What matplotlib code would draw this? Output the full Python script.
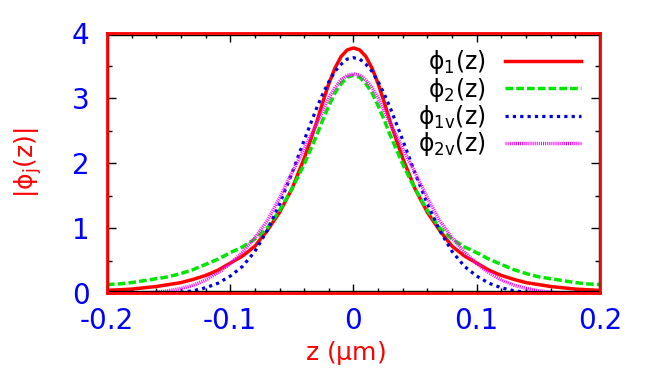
import matplotlib
matplotlib.use("Agg")
import matplotlib.pyplot as plt
from matplotlib.ticker import MultipleLocator
from matplotlib.patches import Rectangle

plt.rcParams['font.family'] = ['DejaVu Sans']
plt.rcParams['mathtext.fontset'] = 'dejavusans'
plt.rcParams['mathtext.default'] = 'regular'

z = [-0.20, -0.19, -0.18, -0.17, -0.16, -0.15, -0.14, -0.13, -0.12, -0.11,
     -0.10, -0.09, -0.08, -0.07, -0.06, -0.05, -0.04, -0.03, -0.025, -0.02,
     -0.015, -0.01, -0.005, 0.0, 0.005, 0.01, 0.015, 0.02, 0.025, 0.03,
     0.04, 0.05, 0.06, 0.07, 0.08, 0.09, 0.10, 0.11, 0.12, 0.13,
     0.14, 0.15, 0.16, 0.17, 0.18, 0.19, 0.20]

phi1 = [0.04, 0.05, 0.06, 0.08, 0.10, 0.13, 0.16, 0.21, 0.27, 0.35,
        0.46, 0.57, 0.72, 0.96, 1.24, 1.60, 2.07, 2.62, 2.93, 3.22,
        3.46, 3.64, 3.74, 3.77, 3.74, 3.64, 3.46, 3.22, 2.93, 2.62,
        2.07, 1.60, 1.24, 0.96, 0.72, 0.57, 0.46, 0.35, 0.27, 0.21,
        0.16, 0.13, 0.10, 0.08, 0.06, 0.05, 0.04]

phi2 = [0.13, 0.14, 0.16, 0.19, 0.22, 0.25, 0.30, 0.36, 0.44, 0.52,
        0.62, 0.71, 0.83, 1.00, 1.27, 1.60, 1.98, 2.42, 2.66, 2.88,
        3.08, 3.22, 3.32, 3.35, 3.32, 3.22, 3.08, 2.88, 2.66, 2.42,
        1.98, 1.60, 1.27, 1.00, 0.83, 0.71, 0.62, 0.52, 0.44, 0.36,
        0.30, 0.25, 0.22, 0.19, 0.16, 0.14, 0.13]

phi1v = [0.0, 0.0, 0.0, 0.0, 0.0, 0.0, 0.01, 0.035, 0.08, 0.15,
         0.26, 0.41, 0.64, 0.96, 1.37, 1.84, 2.35, 2.84, 3.06, 3.25,
         3.41, 3.52, 3.60, 3.62, 3.60, 3.52, 3.41, 3.25, 3.06, 2.84,
         2.35, 1.84, 1.37, 0.96, 0.64, 0.41, 0.26, 0.15, 0.08, 0.035,
         0.01, 0.0, 0.0, 0.0, 0.0, 0.0, 0.0]

phi2v = [0.0, 0.0, 0.0, 0.0, 0.012, 0.035, 0.07, 0.12, 0.20, 0.31,
         0.45, 0.63, 0.85, 1.11, 1.46, 1.85, 2.22, 2.60, 2.80, 3.00,
         3.16, 3.28, 3.35, 3.37, 3.35, 3.28, 3.16, 3.00, 2.80, 2.60,
         2.22, 1.85, 1.46, 1.11, 0.85, 0.63, 0.45, 0.31, 0.20, 0.12,
         0.07, 0.035, 0.012, 0.0, 0.0, 0.0, 0.0]

labels = [r'$\phi_1$(z)', r'$\phi_2$(z)', r'$\phi_{1v}$(z)', r'$\phi_{2v}$(z)']
xticks = [-0.2, -0.1, 0, 0.1, 0.2]
xticklabels = ['-0.2', '-0.1', '0', '0.1', '0.2']

fig = plt.figure(figsize=(6.48, 3.70), dpi=100)
ax = fig.add_axes([0.1651, 0.2081, 0.7608, 0.7027])

ax.plot(z, phi1, color='#ff0000', lw=2.5, label=labels[0])
ax.plot(z, phi2, color='#00e600', lw=2.5, dashes=(2.2, 0.9), label=labels[1])
ax.plot(z, phi1v, color='#0000e0', lw=2.3, dashes=(1.0, 1.3), label=labels[2])
ax.plot(z, phi2v, color='#ff00ff', lw=2.5, dashes=(0.3, 0.3), label=labels[3])

ax.set_xlim(-0.2, 0.2)
ax.set_ylim(0, 4)
ax.set_xticks(xticks)
ax.set_xticklabels(xticklabels)
ax.xaxis.set_minor_locator(MultipleLocator(0.02))
ax.yaxis.set_major_locator(MultipleLocator(1))
ax.yaxis.set_minor_locator(MultipleLocator(0.5))

ax.tick_params(which='both', direction='in', top=True, right=True,
               color='black', labelcolor='#0000ff', labelsize=20)
ax.tick_params(which='major', length=6.5, width=1)
ax.tick_params(which='minor', length=3.5, width=1)
ax.tick_params(axis='x', pad=10)
ax.tick_params(axis='y', pad=12.5)

for s in ax.spines.values():
    s.set_color('#ff0000')
    s.set_linewidth(2)
    s.set_zorder(5)
ax.add_patch(Rectangle((0.003, 0.006), 0.994, 0.988, transform=ax.transAxes,
                       fill=False, ec='black', lw=1, zorder=4))

fig.text(345 / 648, 0.045, r'z ($\mu$m)', color='#ff0000', fontsize=18,
         ha='center', va='center')
fig.text(0.044, 0.559, r'|$\phi_j$(z)|', color='#ff0000', fontsize=18,
         rotation=90, ha='center', va='center')

ax.legend(loc='upper right', bbox_to_anchor=(581 / 648, 0.869),
          bbox_transform=fig.transFigure, frameon=False, markerfirst=False,
          fontsize=17, handlelength=3.2, handletextpad=0.85,
          labelspacing=-0.03, borderpad=0, borderaxespad=0)

fig.savefig('out.png', dpi=100)
